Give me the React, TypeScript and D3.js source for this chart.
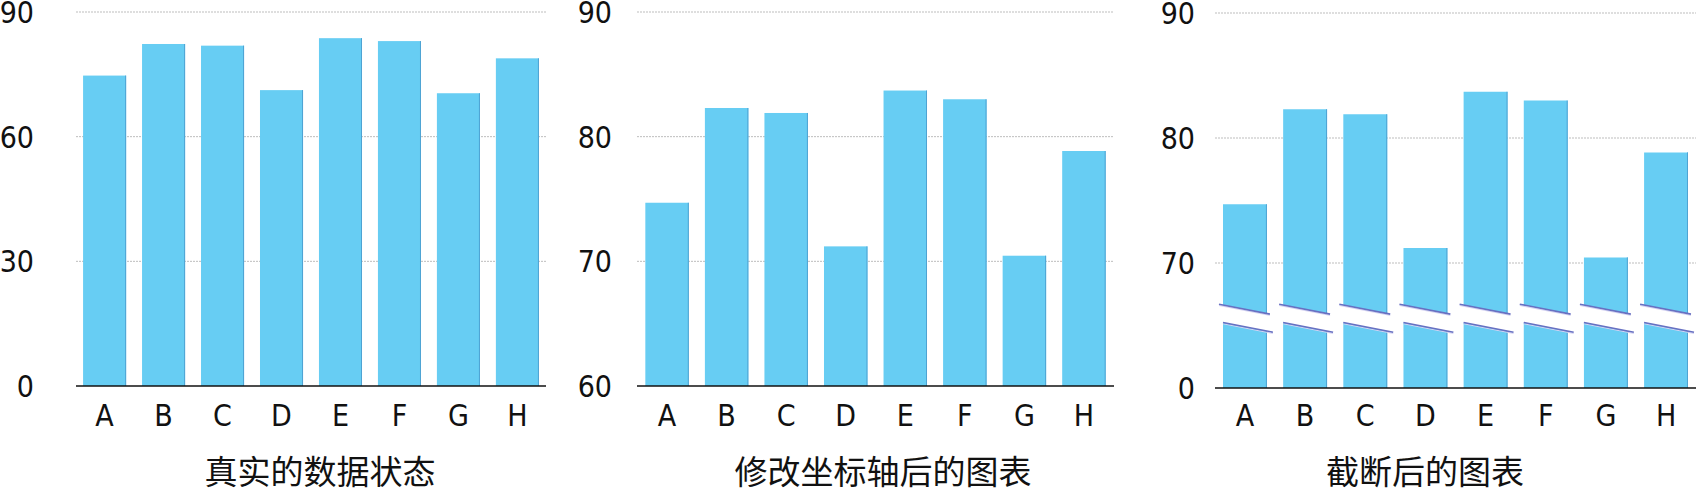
import { useEffect, useRef } from "react";
import * as d3 from "d3";

const categories = ["A", "B", "C", "D", "E", "F", "G", "H"];
const values = [74.7, 82.3, 81.9, 71.2, 83.7, 83.0, 70.45, 78.85];
const ticksTrue = [0, 30, 60, 90];
const ticksZoomed = [60, 70, 80, 90];
const ticksBroken = [0, 70, 80, 90];
const titles = ["真实的数据状态", "修改坐标轴后的图表", "截断后的图表"];
// value range that is cut out of the third chart
const breakRange = [4.9, 66.3];

const WIDTH = 1696;
const HEIGHT = 490;
const BAR = "#67cdf3";
const EDGE = "#4ea3d3";
const BREAK_LINE = "#6870c2";
const TICK_FONT = "'DejaVu Sans Condensed', 'Liberation Sans Narrow', 'DejaVu Sans', sans-serif";
const TITLE_FONT = "'Noto Sans CJK SC', sans-serif";

type Panel = {
  x0: number;
  x1: number;
  paddingOuter: number;
  y: d3.ScaleLinear<number, number>;
  base: number;
  ticks: number[];
  labelX: number;
  titleX: number;
  title: string;
  broken: boolean;
};

export default function App() {
  const svgRef = useRef<SVGSVGElement | null>(null);

  useEffect(() => {
    if (!svgRef.current) return;
    const svg = d3.select(svgRef.current);
    svg.selectAll("*").remove();

    const k = (263 - 13) / 20;
    const yBroken = d3
      .scaleLinear()
      .domain([0, breakRange[0], breakRange[1], 90])
      .range([388, 388 - breakRange[0] * k, 13 + (90 - breakRange[1]) * k, 13]);

    const panels: Panel[] = [
      {
        x0: 76,
        x1: 546,
        paddingOuter: 0.12,
        y: d3.scaleLinear().domain([0, 90]).range([386, 12]),
        base: 386,
        ticks: ticksTrue,
        labelX: 34,
        titleX: 320,
        title: titles[0],
        broken: false,
      },
      {
        x0: 637,
        x1: 1114,
        paddingOuter: 0.14,
        y: d3.scaleLinear().domain([60, 90]).range([386, 12]),
        base: 386,
        ticks: ticksZoomed,
        labelX: 612,
        titleX: 883,
        title: titles[1],
        broken: false,
      },
      {
        x0: 1215,
        x1: 1696,
        paddingOuter: 0.133,
        y: yBroken,
        base: 388,
        ticks: ticksBroken,
        labelX: 1195,
        titleX: 1425,
        title: titles[2],
        broken: true,
      },
    ];

    panels.forEach((p) => {
      const g = svg.append("g");
      const x = d3
        .scaleBand<string>()
        .domain(categories)
        .range([p.x0, p.x1])
        .paddingInner(0.27)
        .paddingOuter(p.paddingOuter);
      const bw = x.bandwidth();

      // grid lines
      p.ticks
        .filter((t) => p.y(t) < p.base - 1)
        .forEach((t) => {
          g.append("line")
            .attr("x1", p.x0)
            .attr("x2", p.x1)
            .attr("y1", p.y(t))
            .attr("y2", p.y(t))
            .attr("stroke", "#bdbdbd")
            .attr("stroke-width", 1)
            .attr("stroke-dasharray", "2,1");
        });

      // y tick labels
      g.selectAll(".ytick")
        .data(p.ticks)
        .join("text")
        .attr("x", p.labelX)
        .attr("y", (d) => p.y(d) + 11)
        .attr("text-anchor", "end")
        .attr("font-family", TICK_FONT)
        .attr("font-size", 30)
        .attr("fill", "#111")
        .text((d) => d);

      if (!p.broken) {
        categories.forEach((c, i) => {
          const bx = x(c)!;
          const top = p.y(values[i]);
          g.append("rect")
            .attr("x", bx)
            .attr("y", top)
            .attr("width", bw)
            .attr("height", p.base - top)
            .attr("fill", BAR);
          g.append("line")
            .attr("x1", bx + bw - 0.5)
            .attr("x2", bx + bw - 0.5)
            .attr("y1", top)
            .attr("y2", p.base)
            .attr("stroke", EDGE)
            .attr("stroke-width", 1);
        });
      } else {
        const slope = 0.195;
        const yHi = p.y(breakRange[1]);
        const yLo = p.y(breakRange[0]);
        categories.forEach((c, i) => {
          const bx = x(c)!;
          const cx = bx + bw / 2;
          const top = p.y(values[i]);
          const at = (yc: number, xx: number) => yc + (xx - cx) * slope;

          // upper piece
          g.append("path")
            .attr(
              "d",
              `M${bx},${top}H${bx + bw}V${at(yHi, bx + bw)}L${bx},${at(yHi, bx)}Z`,
            )
            .attr("fill", BAR);
          g.append("line")
            .attr("x1", bx + bw - 0.5)
            .attr("x2", bx + bw - 0.5)
            .attr("y1", top)
            .attr("y2", at(yHi, bx + bw))
            .attr("stroke", EDGE);

          // lower piece
          g.append("path")
            .attr(
              "d",
              `M${bx},${at(yLo, bx)}L${bx + bw},${at(yLo, bx + bw)}V${p.base}H${bx}Z`,
            )
            .attr("fill", BAR);
          g.append("line")
            .attr("x1", bx + bw - 0.5)
            .attr("x2", bx + bw - 0.5)
            .attr("y1", at(yLo, bx + bw))
            .attr("y2", p.base)
            .attr("stroke", EDGE);

          // break marks
          [
            [bx - 4, bx + bw + 3, yHi],
            [bx, bx + bw + 6, yLo],
          ].forEach(([a, b, yc]) => {
            g.append("line")
              .attr("x1", a)
              .attr("x2", b)
              .attr("y1", at(yc, a) + 1.3)
              .attr("y2", at(yc, b) + 1.3)
              .attr("stroke", "#d6d3f2")
              .attr("stroke-width", 1);
            g.append("line")
              .attr("x1", a)
              .attr("x2", b)
              .attr("y1", at(yc, a))
              .attr("y2", at(yc, b))
              .attr("stroke", BREAK_LINE)
              .attr("stroke-width", 1.6);
          });
        });
      }

      // baseline
      g.append("line")
        .attr("x1", p.x0)
        .attr("x2", p.x1)
        .attr("y1", p.base)
        .attr("y2", p.base)
        .attr("stroke", "#111")
        .attr("stroke-width", 1.5);

      // x labels
      g.selectAll(".xtick")
        .data(categories)
        .join("text")
        .attr("x", (d) => x(d)! + bw / 2)
        .attr("y", 426)
        .attr("text-anchor", "middle")
        .attr("font-family", TICK_FONT)
        .attr("font-size", 30)
        .attr("fill", "#111")
        .text((d) => d);

      // title
      g.append("text")
        .attr("x", p.titleX)
        .attr("y", 484)
        .attr("text-anchor", "middle")
        .attr("font-family", TITLE_FONT)
        .attr("font-size", 33)
        .attr("fill", "#111")
        .text(p.title);
    });
  }, []);

  return (
    <svg
      ref={svgRef}
      width={WIDTH}
      height={HEIGHT}
      style={{ position: "absolute", left: 0, top: 0, background: "#fff" }}
    />
  );
}
